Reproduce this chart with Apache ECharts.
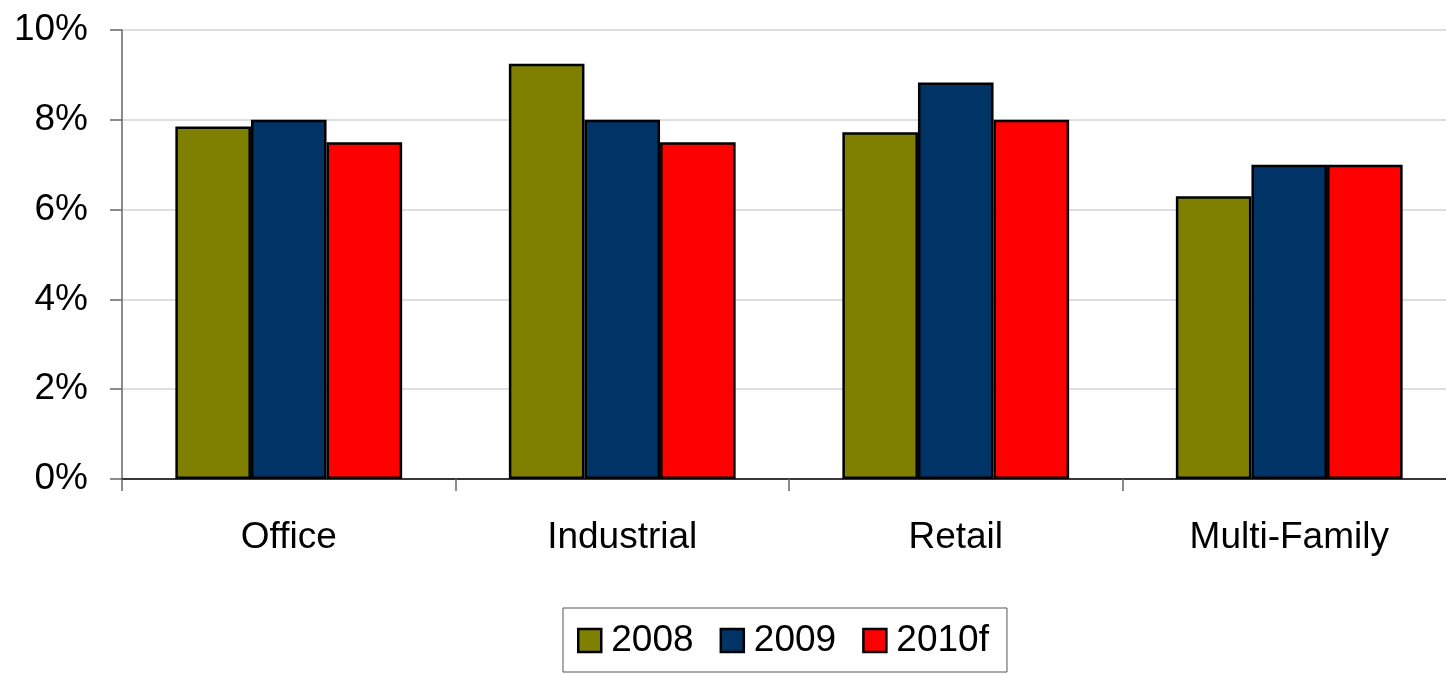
<!DOCTYPE html>
<html>
<head>
<meta charset="utf-8">
<script src="https://cdn.jsdelivr.net/npm/echarts@6/dist/echarts.min.js"></script>
<style>
html,body{margin:0;padding:0;background:#fff;overflow:hidden;}
#chart{width:1460px;height:675px;}
</style>
</head>
<body>
<div id="chart"></div>
<script>
var categories = ['Office', 'Industrial', 'Retail', 'Multi-Family'];
var seriesNames = ['2008', '2009', '2010f'];
var values2008 = [7.85, 9.25, 7.72, 6.3];
var values2009 = [8.0, 8.0, 8.83, 7.0];
var values2010f = [7.5, 7.5, 8.0, 7.0];
var yTicks = [0, 2, 4, 6, 8, 10];
var colors = ['#808000', '#003366', '#FF0000'];

var font = 'Liberation Sans, Arial, sans-serif';
var allValues = [values2008, values2009, values2010f];
var series = seriesNames.map(function (n, i) {
  return {
    name: n,
    type: 'bar',
    data: allValues[i],
    barGap: '0%',
    barCategoryGap: '32%',
    itemStyle: { color: colors[i], borderColor: '#000', borderWidth: 2.5 }
  };
});

var chart = echarts.init(document.getElementById('chart'));
chart.setOption({
  animation: false,
  backgroundColor: '#fff',
  grid: { left: 122, top: 30, width: 1334, height: 449, containLabel: false },
  legend: {
    data: seriesNames.map(function (n, i) {
      return { name: n, itemStyle: { color: colors[i], borderColor: '#000', borderWidth: 2.5 } };
    }),
    left: 563,
    top: 608,
    orient: 'horizontal',
    icon: 'rect',
    itemWidth: 23,
    itemHeight: 23,
    itemGap: 26,
    padding: [14, 18, 13, 14],
    borderColor: '#555',
    borderWidth: 1,
    textStyle: { fontFamily: font, fontSize: 37, color: '#000', padding: [0, 0, 0, 5] }
  },
  xAxis: {
    type: 'category',
    data: categories,
    axisLine: { lineStyle: { color: '#000', width: 1.5 } },
    axisTick: { show: true, length: 12, lineStyle: { color: '#666', width: 1.5 } },
    axisLabel: { fontFamily: font, fontSize: 37, color: '#000', margin: 40 }
  },
  yAxis: {
    type: 'value',
    min: yTicks[0],
    max: yTicks[yTicks.length - 1],
    interval: 2,
    axisLine: { show: true, lineStyle: { color: '#666', width: 1.5 } },
    axisTick: { show: true, length: 12, lineStyle: { color: '#666', width: 1.5 } },
    splitLine: { lineStyle: { color: '#d4d4d4', width: 1.5 } },
    axisLabel: { fontFamily: font, fontSize: 37, color: '#000', margin: 34, formatter: '{value}%' }
  },
  series: series
});
</script>
</body>
</html>
